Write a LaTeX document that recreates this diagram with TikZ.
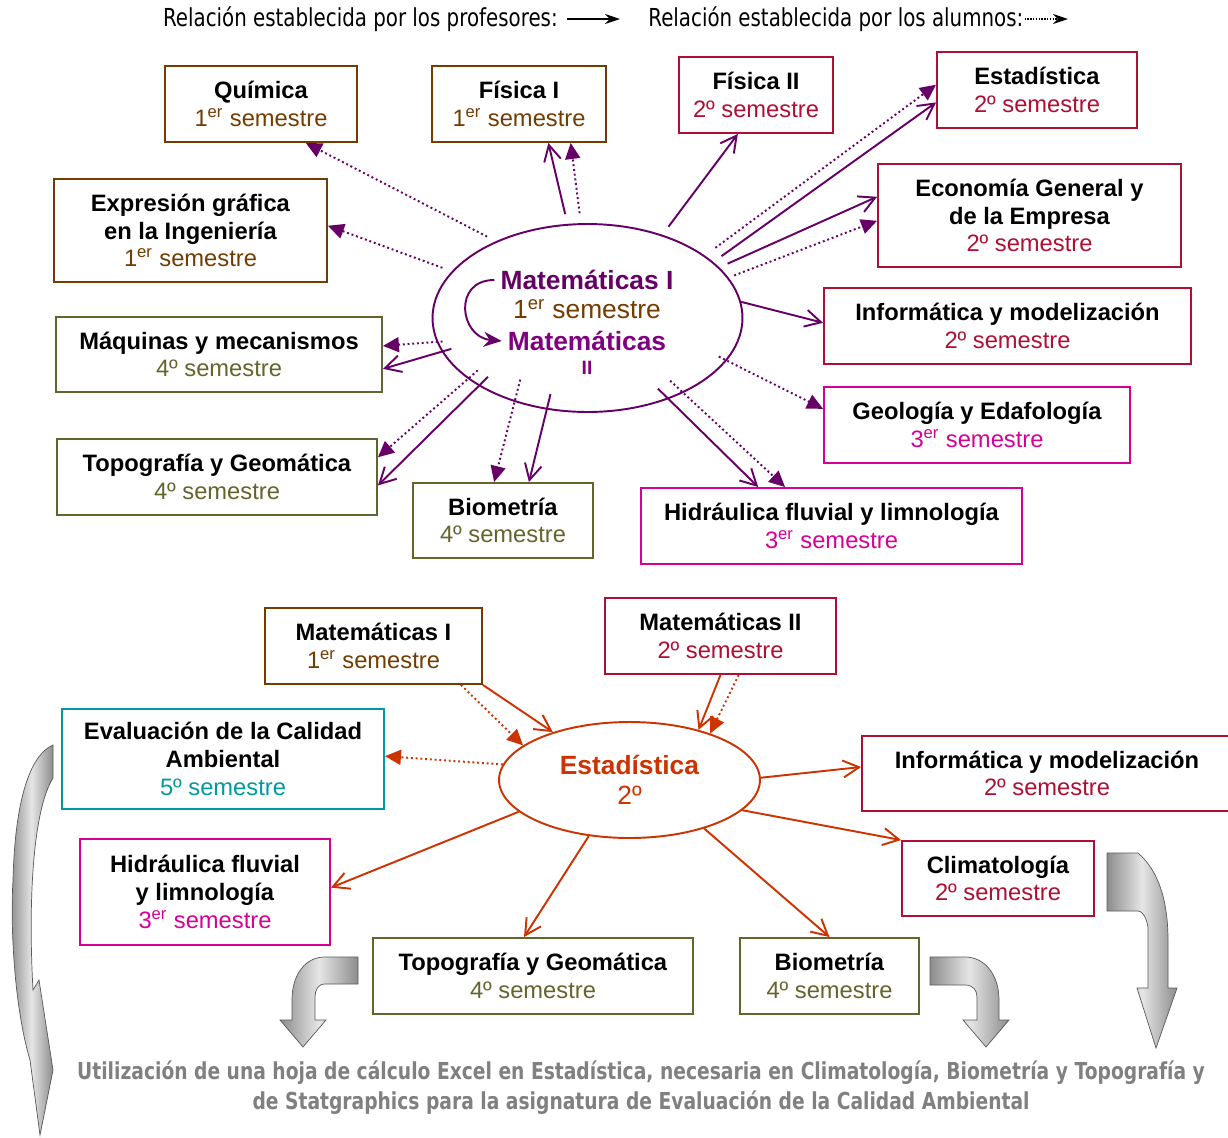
\documentclass[tikz,border=0pt]{standalone}
\usepackage{fontspec}
\setmainfont{Liberation Sans}
\newfontfamily\notefont[FakeStretch=0.8]{DejaVu Sans}
\usepackage{tikz}
\usetikzlibrary{shapes.geometric,arrows.meta}
\definecolor{c_brown}{RGB}{115,60,0}
\definecolor{c_red}{RGB}{175,15,50}
\definecolor{c_magenta}{RGB}{214,0,150}
\definecolor{c_olive}{RGB}{100,100,45}
\definecolor{c_teal}{RGB}{0,153,160}
\definecolor{c_orange}{RGB}{204,51,0}
\definecolor{c_purple}{RGB}{102,0,102}
\definecolor{c_violet}{RGB}{128,0,128}
\definecolor{c_grey}{RGB}{128,128,128}
\tikzset{c-box/.style={rectangle, draw, line width=1.1pt, fill=white, align=center, inner sep=0pt, font=\fontsize{13.5}{15.8}\selectfont},
c-oval/.style={ellipse, draw, line width=1.1pt, inner sep=0pt, fill=white},
arrow-prof/.style={line width=1.1pt, -{Straight Barb[length=0.32cm,width=0.34cm,line width=1.1pt]}},
arrow-alum/.style={line width=1.1pt, dash pattern=on 1.1pt off 1.6pt, -{Triangle[length=0.32cm,width=0.3cm]}},
c-shade/.style={draw=gray!70!black, line width=0.4pt, left color=gray!90, right color=gray!90, middle color=gray!20}}

\begin{document}
\begin{tikzpicture}[x=0.02cm, y=-0.02cm]
\useasboundingbox (0,0) rectangle (1228,1137);
% legend
\node (leg1) [font=\notefont\fontsize{14.1}{16}\selectfont, anchor=east, inner sep=0pt] at (558,19) {Relación establecida por los profesores:};
\coordinate (leg1end) at (620,19);
\draw [line width=0.8pt, -{Stealth[length=0.3cm,width=0.2cm]}, shorten <=0.18cm] (leg1.east) -- (leg1end);
\node (leg2) [font=\notefont\fontsize{14.1}{16}\selectfont, anchor=west, inner sep=0pt] at (648,19) {Relación establecida por los alumnos:};
\coordinate (leg2end) at (1068,19);
\draw [line width=0.8pt, dash pattern=on 0.8pt off 0.8pt, -{Stealth[length=0.3cm,width=0.2cm]}, shorten <=0.02cm] (leg2.east) -- (leg2end);

% Matematicas I y II
\node (mat) [c-oval, draw=c_purple, minimum width=6.2cm, minimum height=3.76cm] at (587.5,318) {};
\node (mat1) [font=\bfseries\fontsize{15}{18}\selectfont, text=c_purple] at (587,280) {Matemáticas I};
\node (mat1s) [font=\fontsize{15}{18}\selectfont, text=c_brown] at (587,309) {1\textsuperscript{er} semestre};
\node (mat2) [font=\bfseries\fontsize{15}{18}\selectfont, text=c_violet] at (587,341) {Matemáticas};
\node (mat2s) [font=\bfseries\fontsize{11}{12}\selectfont, text=c_violet] at (587,368) {II};
\draw [line width=1.1pt, c_purple, -{Stealth[length=0.36cm,width=0.3cm]}] (mat1.west) .. controls +(-42,0) and +(-42,-4) .. (mat2.west);

\node (quim) [c-box, draw=c_brown, minimum width=3.84cm, minimum height=1.52cm] at (261,104) {\textbf{Química}\\\color{c_brown}1\textsuperscript{er} semestre};
\node (fis1) [c-box, draw=c_brown, minimum width=3.48cm, minimum height=1.52cm] at (519,104) {\textbf{Física I}\\\color{c_brown}1\textsuperscript{er} semestre};
\node (fis2) [c-box, draw=c_red, minimum width=3.08cm, minimum height=1.52cm] at (756,95) {\textbf{Física II}\\\color{c_red}2º semestre};
\node (est) [c-box, draw=c_red, minimum width=4.0cm, minimum height=1.52cm] at (1037,90) {\textbf{Estadística}\\\color{c_red}2º semestre};
\node (eco) [c-box, draw=c_red, minimum width=6.06cm, minimum height=2.06cm] at (1029.5,215.5) {\textbf{Economía General y}\\\textbf{de la Empresa}\\\color{c_red}2º semestre};
\node (inf) [c-box, draw=c_red, minimum width=7.34cm, minimum height=1.52cm] at (1007.5,326) {\textbf{Informática y modelización}\\\color{c_red}2º semestre};
\node (geo) [c-box, draw=c_magenta, minimum width=6.12cm, minimum height=1.52cm] at (977,425) {\textbf{Geología y Edafología}\\\color{c_magenta}3\textsuperscript{er} semestre};
\node (hid) [c-box, draw=c_magenta, minimum width=7.62cm, minimum height=1.52cm] at (831.5,526) {\textbf{Hidráulica fluvial y limnología}\\\color{c_magenta}3\textsuperscript{er} semestre};
\node (bio) [c-box, draw=c_olive, minimum width=3.6cm, minimum height=1.5cm] at (503,520.5) {\textbf{Biometría}\\\color{c_olive}4º semestre};
\node (topo) [c-box, draw=c_olive, minimum width=6.4cm, minimum height=1.52cm] at (217,477) {\textbf{Topografía y Geomática}\\\color{c_olive}4º semestre};
\node (maq) [c-box, draw=c_olive, minimum width=6.52cm, minimum height=1.5cm] at (219,354.5) {\textbf{Máquinas y mecanismos}\\\color{c_olive}4º semestre};
\node (exp) [c-box, draw=c_brown, minimum width=5.46cm, minimum height=2.06cm] at (190.5,230.5) {\textbf{Expresión gráfica}\\\textbf{en la Ingeniería}\\\color{c_brown}1\textsuperscript{er} semestre};

\draw [arrow-alum, c_purple, shorten <=0.2cm] (mat.140) -- (quim.-41);
\draw [arrow-prof, c_purple, shorten <=0.2cm] (mat.102) -- (fis1.-53);
\draw [arrow-alum, c_purple, shorten <=0.2cm] (mat.94) -- (fis1.-37);
\draw [arrow-prof, c_purple, shorten <=0.2cm] (mat.48) -- (fis2.-115);
\draw [arrow-alum, c_purple, shorten <=0.26cm] (mat.28) -- (est.177);
\draw [arrow-prof, c_purple, shorten <=0.2cm] (mat.24) -- (est.-173);
\draw [arrow-prof, c_purple, shorten <=0.18cm] (mat.21) -- (eco.173);
\draw [arrow-alum, c_purple, shorten <=0.12cm] (mat.16) -- (eco.182);
\draw [arrow-prof, c_purple] (mat.6) -- (inf.179);
\draw [arrow-alum, c_purple, shorten <=-0.18cm] (mat.-17) -- (geo.174);
\draw [arrow-prof, c_purple, shorten <=-0.3cm] (mat.-45) -- (hid.152);
\draw [arrow-alum, c_purple, shorten <=-0.36cm] (mat.-38) -- (hid.140);
\draw [arrow-alum, c_purple, shorten <=-0.46cm] (mat.-131) -- (bio.103);
\draw [arrow-prof, c_purple, shorten <=-0.32cm] (mat.-114) -- (bio.56);
\draw [arrow-alum, c_purple, shorten <=-0.26cm] (mat.-153) -- (topo.7);
\draw [arrow-prof, c_purple, shorten <=-0.26cm] (mat.-148) -- (topo.-3);
\draw [arrow-alum, c_purple, shorten <=-0.12cm] (mat.-171) -- (maq.3);
\draw [arrow-prof, c_purple, shorten <=-0.2cm] (mat.-167) -- (maq.-5);
\draw [arrow-alum, c_purple, shorten <=0.2cm] (mat.161) -- (exp.2);

% Estadistica
\node (est2) [c-oval, draw=c_orange, minimum width=5.22cm, minimum height=2.32cm, align=center, text=c_orange, font=\fontsize{15}{17}\selectfont] at (629.5,780) {\textbf{Estadística}\\2º};
\node (mat1b) [c-box, draw=c_brown, minimum width=4.34cm, minimum height=1.52cm] at (373.5,646) {\textbf{Matemáticas I}\\\color{c_brown}1\textsuperscript{er} semestre};
\node (mat2b) [c-box, draw=c_red, minimum width=4.62cm, minimum height=1.52cm] at (720.5,636) {\textbf{Matemáticas II}\\\color{c_red}2º semestre};
\node (eval) [c-box, draw=c_teal, minimum width=6.44cm, minimum height=2.0cm] at (223,759) {\textbf{Evaluación de la Calidad}\\\textbf{Ambiental}\\\color{c_teal}5º semestre};
\node (inf2) [c-box, draw=c_red, minimum width=7.4cm, minimum height=1.5cm] at (1047,773.5) {\textbf{Informática y modelización}\\\color{c_red}2º semestre};
\node (hid2) [c-box, draw=c_magenta, minimum width=5.0cm, minimum height=2.12cm] at (205,892) {\textbf{Hidráulica fluvial}\\\textbf{y limnología}\\\color{c_magenta}3\textsuperscript{er} semestre};
\node (clim) [c-box, draw=c_red, minimum width=3.84cm, minimum height=1.5cm] at (998,878.5) {\textbf{Climatología}\\\color{c_red}2º semestre};
\node (topo2) [c-box, draw=c_olive, minimum width=6.4cm, minimum height=1.52cm] at (533,976) {\textbf{Topografía y Geomática}\\\color{c_olive}4º semestre};
\node (bio2) [c-box, draw=c_olive, minimum width=3.58cm, minimum height=1.52cm] at (829.5,976) {\textbf{Biometría}\\\color{c_olive}4º semestre};

\draw [arrow-prof, c_orange] (mat1b.south east) -- (est2.148);
\draw [arrow-alum, c_orange] (mat1b.-24) -- (est2.162);
\draw [arrow-prof, c_orange] (mat2b.south) -- (est2.36);
\draw [arrow-alum, c_orange] (mat2b.-65) -- (est2.30);
\draw [arrow-alum, c_orange] (est2.173) -- (eval.1);
\draw [arrow-prof, c_orange] (est2.1) -- (inf2.178);
\draw [arrow-prof, c_orange] (est2.-15) -- (clim.north west);
\draw [arrow-prof, c_orange] (est2.-164) -- (hid2.2);
\draw [arrow-prof, c_orange] (est2.-126) -- (topo2.103);
\draw [arrow-prof, c_orange] (est2.-33) -- (bio2.north);

% grey arrows
\path [c-shade] (53,745) -- (53,778) .. controls (33,810) and (28,900) .. (33,990) -- (39,980) -- (53,1070) -- (40,1135) -- (30,1060) .. controls (15,1010) and (10,930) .. (13,880) .. controls (15,800) and (30,755) .. (53,745) -- cycle;
\path [c-shade] (358,957) -- (325,957) .. controls (305,957) and (292,975) .. (292,1000) -- (292,1020) -- (280,1020) -- (303,1047) -- (326,1020) -- (315,1020) -- (315,997) .. controls (315,990) and (318,984) .. (325,984) -- (358,984) -- cycle;
\path [c-shade] (930,957) -- (965,957) .. controls (985,957) and (999,975) .. (999,1000) -- (999,1020) -- (1009,1020) -- (986,1047) -- (963,1020) -- (977,1020) -- (977,997) .. controls (977,990) and (973,985) .. (965,985) -- (930,985) -- cycle;
\path [c-shade] (1107,853) -- (1138,853) .. controls (1158,870) and (1168,900) .. (1168,940) -- (1168,988) -- (1177,988) -- (1156,1048) -- (1137,988) -- (1148,988) -- (1148,927) .. controls (1146,916) and (1142,911) .. (1138,911) -- (1107,911) -- cycle;

\node (note) [font=\notefont\bfseries\fontsize{13.3}{17}\selectfont, text=c_grey, align=center] at (641,1088) {Utilización de una hoja de cálculo Excel en Estadística, necesaria en Climatología, Biometría y Topografía y\\de Statgraphics para la asignatura de Evaluación de la Calidad Ambiental};
\end{tikzpicture}
\end{document}
